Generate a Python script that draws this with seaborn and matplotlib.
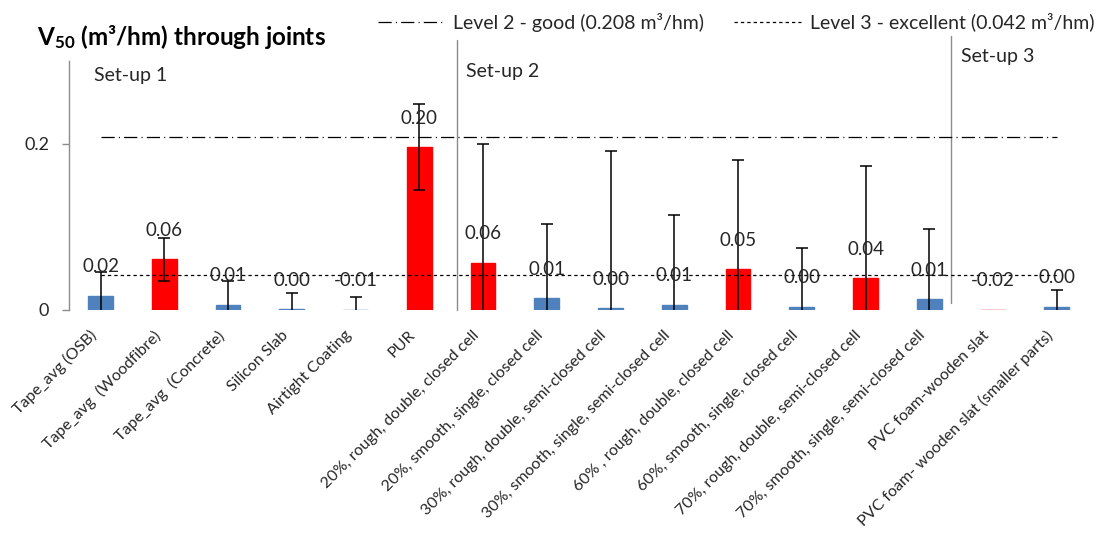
# V50 through joints - bar chart with error bars and reference levels
import numpy as np
import pandas as pd
import matplotlib
matplotlib.use("Agg")
import matplotlib.pyplot as plt
import matplotlib.transforms as mtransforms
import seaborn as sns
from matplotlib.lines import Line2D

# -------- data --------
categories = [
    "Tape_avg (OSB)", "Tape_avg  (Woodfibre)", "Tape_avg  (Concrete)", "Silicon Slab",
    "Airtight Coating", "PUR",
    "20%, rough, double, closed cell", "20%, smooth, single, closed cell",
    "30%, rough, double, semi-closed cell", "30%, smooth, single, semi-closed cell",
    "60% , rough, double, closed cell", "60%, smooth, single, closed cell",
    "70%, rough, double, semi-closed cell", "70%, smooth, single, semi-closed cell",
    "PVC foam-wooden slat", "PVC foam- wooden slat (smaller parts)",
]
values = [0.017, 0.061, 0.006, 0.001, -0.006, 0.196,
          0.057, 0.014, 0.002, 0.006, 0.049, 0.004, 0.038, 0.013,
          -0.02, 0.004]
errors = [0.029, 0.026, 0.029, 0.020, 0.022, 0.052,
          0.143, 0.089, 0.189, 0.108, 0.132, 0.071, 0.136, 0.084,
          0.010, 0.020]
highlight = [False, True, False, False, False, True,
             True, False, False, False, True, False, True, False,
             True, False]
setups = ["Set-up 1", "Set-up 2", "Set-up 3"]
setup_sizes = [6, 8, 2]
level2 = 0.208
level3 = 0.042

# -------- style --------
sns.set_theme(style="white")
plt.rcParams["font.family"] = ["Lato", "DejaVu Sans"]
plt.rcParams["mathtext.fontset"] = "custom"
plt.rcParams["mathtext.rm"] = "Lato"
plt.rcParams["mathtext.bf"] = "Lato:bold"
plt.rcParams["lines.scale_dashes"] = False

BLUE = "#4F81BD"
RED = "#FF0000"
TXT = "#262626"
GRID = "#8C8C8C"

df = pd.DataFrame({"category": categories, "value": values, "err": errors})
colors = [RED if h else BLUE for h in highlight]

fig = plt.figure(figsize=(10.98, 5.39), dpi=100)
ax = fig.add_axes([0.0625, 0.4249, 0.929, 0.462])

sns.barplot(data=df, x="category", y="value", hue="category", palette=colors,
            legend=False, width=0.39, ax=ax, linewidth=1.0, edgecolor=colors,
            saturation=1)
for bar, c in zip(ax.patches, colors):
    bar.set_edgecolor(c)

xs = np.arange(len(categories))
ax.errorbar(xs, values, yerr=errors, fmt="none", ecolor="black",
            elinewidth=1.1, capsize=4.3, capthick=1.1, zorder=3)

# reference levels
dashdot = (0, (9.5, 3, 0.8, 3))
dashed = (0, (2.4, 2.2))
ax.plot([xs[0], xs[-1]], [level2, level2], color="black", lw=0.9,
        linestyle=dashdot, zorder=2)
ax.plot([xs[0], xs[-1]], [level3, level3], color="black", lw=0.9,
        linestyle=dashed, zorder=2)

# data labels
for x, v in zip(xs, values):
    ax.text(x, max(v, 0) + 0.035, f"{v:.2f}", ha="center", va="center",
            fontsize=13.5, color=TXT, zorder=4)

# set-up separators and labels
bounds = np.cumsum([0] + setup_sizes[:-1]) - 0.5
line_shift = [0.0, 0.09, -0.16]
line_top = [0.299, 0.325, 0.330]
line_bot = [0.0, 0.0, 0.008]
text_y = [0.282, 0.287, 0.305]
text_dx = [0.4, 0.14, 0.16]
for name, b, sh, top, bot, ty, dx in zip(setups, bounds, line_shift, line_top,
                                         line_bot, text_y, text_dx):
    if b > 0:
        ax.plot([b + sh, b + sh], [bot, top], color=GRID, lw=1.0, clip_on=False, zorder=1)
    ax.text(b + sh + dx, ty, name, ha="left", va="center", fontsize=14, color=TXT)

# axes
ax.set_xlim(-0.5, len(categories) - 0.5)
ax.set_ylim(0, 0.3)
ax.set_yticks([0, 0.2])
ax.set_yticklabels(["0", "0.2"], fontsize=13, color=TXT)
ax.set_xlabel("")
ax.set_ylabel("")
ax.set_xticks(xs)
ax.set_xticklabels(categories, rotation=45, ha="right", rotation_mode="anchor",
                   fontsize=11.5, color=TXT)
ax.tick_params(axis="x", length=0, pad=13)
ax.tick_params(axis="y", length=5, width=1, color=GRID, pad=9, left=True)
shift = mtransforms.ScaledTranslation(-8 / 72, 0, fig.dpi_scale_trans)
for lbl in ax.get_xticklabels():
    lbl.set_transform(lbl.get_transform() + shift)
for s in ["top", "right", "bottom"]:
    ax.spines[s].set_visible(False)
ax.spines["left"].set_color(GRID)
ax.spines["left"].set_linewidth(1.0)

# title
fig.text(37 / 1098, 1 - 37 / 539, r"$\mathbf{V_{50}}$" + " (m³/hm) through joints",
         fontsize=17.5, fontweight="bold", color="black", ha="left", va="center")

# legend
handles = [
    Line2D([], [], color="black", lw=0.9, linestyle=dashdot),
    Line2D([], [], color="black", lw=0.9, linestyle=dashed),
]
fig.legend(handles, ["Level 2 - good (0.208 m³/hm)", "Level 3 - excellent (0.042 m³/hm)"],
           loc="center right", bbox_to_anchor=(1094 / 1098, 1 - 22 / 539), ncol=2,
           frameon=False, fontsize=14, handlelength=3.4, handletextpad=0.46,
           columnspacing=1.55, labelcolor=TXT, borderaxespad=0, borderpad=0)

fig.savefig("out.png", dpi=100)
